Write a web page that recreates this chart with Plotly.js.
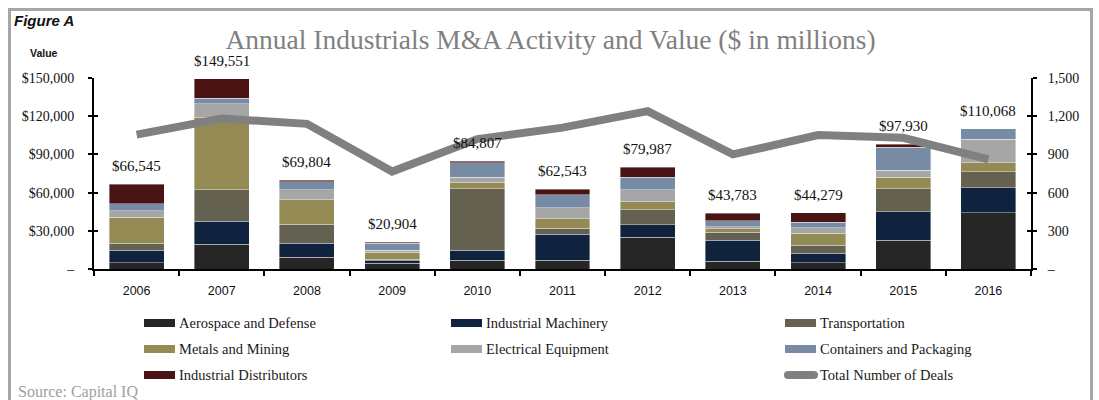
<!DOCTYPE html>
<html><head><meta charset="utf-8">
<script src="https://cdn.plot.ly/plotly-3.0.1.min.js"></script>
<style>html,body{margin:0;padding:0;background:#fff;}#chart{width:1099px;height:400px;}</style>
</head><body><div id="chart"></div>
<script>
const years = ['2006','2007','2008','2009','2010','2011','2012','2013','2014','2015','2016'];
const aerospace      = [5000, 19565, 9390, 4700, 7040, 7040, 25040, 6000, 4960, 22700, 44350];
const machinery      = [9650, 18000, 10700, 1830, 7565, 20350, 9910, 16435, 7300, 22435, 19565];
const transportation = [5740, 24520, 14870, 1300, 48520, 4700, 11480, 6260, 6260, 18000, 12520];
const metals         = [20090, 56600, 19300, 5480, 4700, 7565, 6520, 2870, 9650, 8870, 7040];
const electrical     = [5220, 11220, 7830, 1300, 4430, 8350, 9130, 1565, 4170, 5740, 18260];
const containers     = [5740, 4170, 6260, 5740, 11220, 10170, 9910, 4700, 4430, 17740, 8333];
const distributors   = [15105, 15476, 1454, 554, 1332, 4368, 7997, 5953, 7509, 2445, 0];
const totals = [66545, 149551, 69804, 20904, 84807, 62543, 79987, 43783, 44279, 97930, 110068];
const deals  = [1055, 1182, 1140, 765, 1020, 1110, 1240, 900, 1052, 1030, 860];

const seriesNames = ['Aerospace and Defense','Industrial Machinery','Transportation','Metals and Mining','Electrical Equipment','Containers and Packaging','Industrial Distributors'];
const seriesValues = [aerospace, machinery, transportation, metals, electrical, containers, distributors];
const seriesColors = ['#262626','#0f233f','#646150','#948a54','#a6a6a6','#778ba5','#4a1414'];
const lineName = 'Total Number of Deals';
const lineColor = '#808080';
const leftTickVals = [0,30000,60000,90000,120000,150000];
const leftTickText = ['–','$30,000','$60,000','$90,000','$120,000','$150,000'];
const rightTickVals = [0,300,600,900,1200,1500];
const rightTickText = ['–','300','600','900','1,200','1,500'];

const serif = 'Liberation Serif, DejaVu Serif, serif';
const sans = 'Liberation Sans, Arial, sans-serif';

const M = {l:94, r:68, t:78, b:131};
const W = 1099, H = 400;
const pw = W - M.l - M.r, ph = H - M.t - M.b;
const px2x = p => (p - M.l) / pw;
const py2y = p => (H - M.b - p) / ph;

const traces = seriesNames.map((n,i) => ({
  type:'bar', name:n, x:years, y:seriesValues[i],
  marker:{color:seriesColors[i], line:{color:'rgba(255,255,255,0.55)', width:0.7}},
  showlegend:false, hoverinfo:'skip'
}));
traces.push({type:'scatter', mode:'lines', name:lineName, x:years, y:deals, yaxis:'y2',
  line:{color:lineColor, width:8}, showlegend:false, hoverinfo:'skip'});

const shapes = [];
const annotations = [];
// frame
shapes.push({type:'rect', xref:'paper', yref:'paper', x0:px2x(9.5), x1:px2x(1091.5), y0:py2y(420), y1:py2y(9.5),
  line:{color:'#a6a6a6', width:3}, fillcolor:'rgba(0,0,0,0)', layer:'above'});

// legend
const colX = [144, 451, 785];
const rowY = [323, 349, 375];
const legFont = {family:serif, size:14.5, color:'#1a1a1a'};
seriesNames.forEach((n,i) => {
  const r = Math.floor(i/3), c = i%3;
  shapes.push({type:'rect', xref:'paper', yref:'paper', x0:px2x(colX[c]), x1:px2x(colX[c]+31),
    y0:py2y(rowY[r]+4), y1:py2y(rowY[r]-4), fillcolor:seriesColors[i], line:{width:0}});
  annotations.push({xref:'paper', yref:'paper', x:px2x(colX[c]+33), y:py2y(rowY[r]), xanchor:'left', yanchor:'middle',
    text:n, showarrow:false, font:legFont});
});
shapes.push({type:'path', xref:'paper', yref:'paper',
  path:'M ' + px2x(colX[2]+3) + ' ' + py2y(rowY[2]) + ' L ' + px2x(colX[2]+29) + ' ' + py2y(rowY[2]),
  line:{color:lineColor, width:8}});
shapes.push({type:'circle', xref:'paper', yref:'paper', x0:px2x(colX[2]-1), x1:px2x(colX[2]+7),
  y0:py2y(rowY[2]+4), y1:py2y(rowY[2]-4), fillcolor:lineColor, line:{width:0}});
shapes.push({type:'circle', xref:'paper', yref:'paper', x0:px2x(colX[2]+25), x1:px2x(colX[2]+33),
  y0:py2y(rowY[2]+4), y1:py2y(rowY[2]-4), fillcolor:lineColor, line:{width:0}});
annotations.push({xref:'paper', yref:'paper', x:px2x(colX[2]+33), y:py2y(rowY[2]), xanchor:'left', yanchor:'middle',
  text:lineName, showarrow:false, font:legFont});

// totals above bars (x given as category index)
years.forEach((yr,i) => {
  annotations.push({x:i, y:totals[i], xref:'x', yref:'y', yanchor:'bottom', yshift:8,
    text:'$' + totals[i].toLocaleString('en-US'), showarrow:false,
    font:{family:serif, size:15, color:'#111'}});
});

annotations.push({xref:'paper', yref:'paper', x:px2x(12), y:py2y(20), xanchor:'left', yanchor:'middle',
  text:'<b><i>Figure A</i></b>', showarrow:false, font:{family:sans, size:15, color:'#111'}});
annotations.push({xref:'paper', yref:'paper', x:px2x(44), y:py2y(53), xanchor:'center', yanchor:'middle',
  text:'<b>Value</b>', showarrow:false, font:{family:sans, size:10.5, color:'#111'}});
annotations.push({xref:'paper', yref:'paper', x:px2x(16), y:py2y(392), xanchor:'left', yanchor:'middle',
  text:'Source: Capital IQ', showarrow:false, font:{family:serif, size:16, color:'#a0a0a0'}});

const axisCommon = {showgrid:false, zeroline:false, showline:true, linecolor:'#000', linewidth:2,
  tickcolor:'#000', tickwidth:2, ticklen:4};

const layout = {
  width:W, height:H, margin:M, paper_bgcolor:'#fff', plot_bgcolor:'#fff',
  barmode:'stack', bargap:0.355, showlegend:false,
  title:{text:'Annual Industrials M&A Activity and Value ($ in millions)', xref:'container', yref:'container',
    x:0.501, y:1-39/400, xanchor:'center', yanchor:'middle', font:{family:serif, size:27.5, color:'#808080'}},
  xaxis:Object.assign({}, axisCommon, {type:'category', tickson:'boundaries', ticks:'outside', ticklen:5,
    ticklabelstandoff:9, tickfont:{family:sans, size:12.5, color:'#111'}, range:[-0.5,10.5]}),
  yaxis:Object.assign({}, axisCommon, {range:[0,150000], tickvals:leftTickVals, ticktext:leftTickText,
    ticks:'outside', ticklabelstandoff:11, tickfont:{family:serif, size:14, color:'#111'}}),
  yaxis2:Object.assign({}, axisCommon, {range:[0,1500], overlaying:'y', side:'right', tickvals:rightTickVals,
    ticktext:rightTickText, ticks:'outside', ticklabelstandoff:8, tickfont:{family:serif, size:14, color:'#111'}}),
  yaxis3:Object.assign({}, axisCommon, {range:[0,150000], overlaying:'y', side:'left', tickvals:leftTickVals,
    ticks:'inside', showticklabels:false}),
  yaxis4:Object.assign({}, axisCommon, {range:[0,1500], overlaying:'y', side:'right', tickvals:rightTickVals,
    ticks:'inside', showticklabels:false}),
  shapes:shapes, annotations:annotations, hovermode:false
};
traces.push({type:'scatter', x:[years[0]], y:[null], yaxis:'y3', showlegend:false, hoverinfo:'skip'});
traces.push({type:'scatter', x:[years[0]], y:[null], yaxis:'y4', showlegend:false, hoverinfo:'skip'});

Plotly.newPlot('chart', traces, layout, {displayModeBar:false, staticPlot:true});
</script></body></html>
